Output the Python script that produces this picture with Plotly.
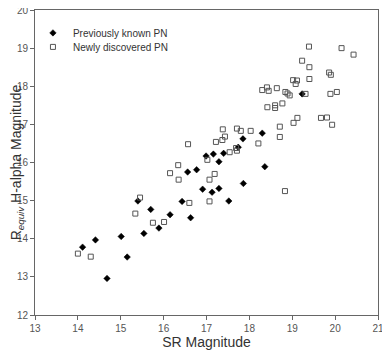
import plotly.graph_objects as go

# Previously known PN (filled black markers)
known_sr = [14.11, 14.41, 14.68, 15.01, 15.15, 15.40, 15.54, 15.70, 15.89, 16.15,
            16.43, 16.56, 16.63, 16.77, 16.91, 17.13, 17.29, 17.86, 17.52, 17.29,
            16.99, 17.16, 17.40, 17.74, 17.85, 18.30, 18.36, 19.23]
known_ha = [13.78, 13.97, 12.96, 14.06, 13.52, 14.99, 14.14, 14.77, 14.28, 14.63,
            14.98, 15.75, 14.55, 15.81, 15.30, 15.22, 15.32, 15.45, 14.99, 16.02,
            16.17, 16.22, 16.24, 16.40, 16.62, 16.77, 15.89, 17.80]

# Newly discovered PN (open squares)
new_sr = [14.00, 14.30, 15.34, 15.45, 15.75, 16.01, 16.15, 16.35, 16.34, 16.57,
          16.60, 17.19, 17.07, 18.83, 17.07, 17.02, 17.54, 17.69, 17.71, 17.22,
          17.37, 17.43, 17.38, 17.71, 17.80, 18.03, 18.21, 18.71, 18.71, 19.39,
          20.15, 20.43, 19.23, 19.40, 19.86, 19.90, 19.40, 19.02, 19.11, 19.08,
          18.30, 18.41, 18.45, 18.64, 18.84, 18.89, 18.94, 19.31, 19.89, 20.04,
          18.42, 18.60, 18.60, 18.77, 19.67, 19.81, 19.93, 19.12, 19.03]
new_ha = [13.61, 13.53, 14.66, 15.08, 14.42, 14.44, 15.72, 15.55, 15.93, 16.48,
          14.94, 15.70, 15.55, 15.25, 14.98, 16.07, 16.27, 16.38, 16.31, 16.54,
          16.59, 16.68, 16.87, 16.89, 16.83, 16.83, 16.50, 16.94, 16.67, 19.04,
          19.00, 18.83, 18.67, 18.50, 18.36, 18.30, 18.19, 18.16, 18.15, 18.06,
          17.90, 17.97, 17.88, 17.95, 17.85, 17.81, 17.76, 17.80, 17.80, 17.85,
          17.45, 17.50, 17.43, 17.55, 17.17, 17.18, 16.99, 17.17, 17.04]

x_ticks = list(range(13, 22))
y_ticks = list(range(12, 21))

FONT = "Arial, Liberation Sans, sans-serif"

fig = go.Figure()
fig.add_trace(go.Scatter(x=known_sr, y=known_ha, mode="markers", name="Previously known PN",
                         legend="legend",
                         marker=dict(symbol="diamond", size=5, color="black",
                                     line=dict(color="black", width=0.5))))
fig.add_trace(go.Scatter(x=new_sr, y=new_ha, mode="markers", name="Newly discovered PN",
                         legend="legend2",
                         marker=dict(symbol="square-open", size=5, color="#555555",
                                     line=dict(width=1))))

axis_style = dict(showgrid=False, zeroline=False, showline=True, mirror=True,
                  linecolor="#666666", linewidth=1, ticks="outside", ticklen=4,
                  tickcolor="#666666", automargin=False, ticklabeloverflow="allow",
                  tickfont=dict(family=FONT, size=10, color="#555555"))

fig.update_xaxes(range=[13, 21], tickvals=x_ticks,
                 title=dict(text="SR Magnitude", font=dict(family=FONT, size=14, color="#333333"),
                            standoff=4),
                 **axis_style)
fig.update_yaxes(range=[12, 20], tickvals=y_ticks,
                 title=dict(text="R<sub><i>equiv</i></sub> H-alpha Magnitude",
                            font=dict(family=FONT, size=14, color="#333333"), standoff=4),
                 **axis_style)

leg = dict(x=-0.006, xanchor="left", yanchor="middle", bgcolor="rgba(0,0,0,0)",
           font=dict(family=FONT, size=10, color="#333333"), itemwidth=30)

# page body adds an 8px margin, so the figure is a bit smaller than the window
fig.update_layout(
    width=382, height=348,
    margin=dict(l=27, r=12, t=2, b=41),
    plot_bgcolor="white", paper_bgcolor="white",
    font=dict(family=FONT),
    showlegend=True,
    legend=dict(y=0.925, **leg),
    legend2=dict(y=0.879, **leg),
)

fig.write_html("out.html")
